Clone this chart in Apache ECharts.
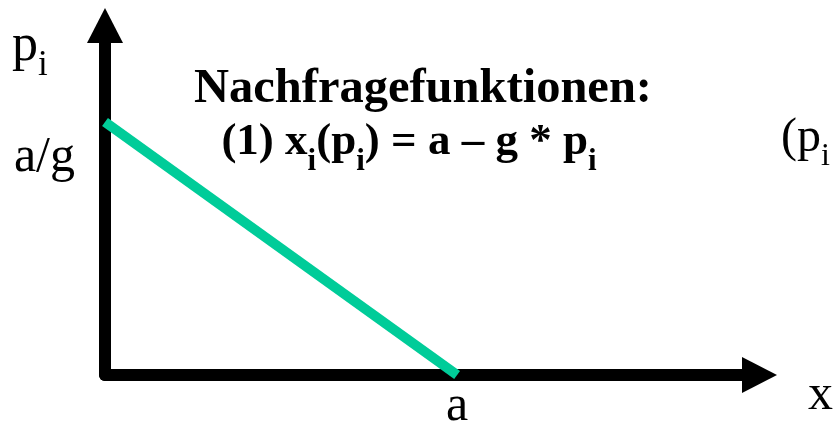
<!DOCTYPE html>
<html>
<head>
<meta charset="utf-8">
<script src="https://cdn.jsdelivr.net/npm/echarts@6/dist/echarts.min.js"></script>
<style>
  html, body { margin: 0; padding: 0; background: #fff; }
  #chart { width: 834px; height: 422px; }
</style>
</head>
<body>
<div id="chart"></div>
<script>
// demand curve x(p) = a - g * p, drawn in arbitrary units
const A = 53.8        // x intercept "a"
const AG = 72.4       // p intercept "a/g"
const curveX = [0, A]
const curveP = [AG, 0]
const xTickValues = [A]
const xTickLabels = ['a']
const yTickValues = [AG]
const yTickLabels = ['a/g']

const serif = '"Liberation Serif", "Times New Roman", serif'

let chart = echarts.init(document.getElementById('chart'), null, { renderer: 'canvas' })

let option = {
  animation: false,
  grid: { left: 105, right: 74.5, top: 25.5, bottom: 47, containLabel: false, outerBoundsMode: 'none' },
  xAxis: {
    type: 'value',
    min: 0,
    max: 100,
    axisLine: {
      lineStyle: { color: '#000', width: 12 },
      symbol: ['none', 'triangle'],
      symbolSize: [36, 35]
    },
    axisTick: { show: false },
    splitLine: { show: false },
    axisLabel: {
      customValues: xTickValues,
      formatter: (v) => xTickLabels[xTickValues.indexOf(v)],
      color: '#000',
      fontFamily: serif,
      fontSize: 50,
      margin: 7
    }
  },
  yAxis: {
    type: 'value',
    min: 0,
    max: 100,
    axisLine: {
      lineStyle: { color: '#000', width: 12 },
      symbol: ['none', 'triangle'],
      symbolSize: [36, 35]
    },
    axisTick: { show: false },
    splitLine: { show: false },
    axisLabel: {
      customValues: yTickValues,
      formatter: (v) => yTickLabels[yTickValues.indexOf(v)],
      color: '#000',
      fontFamily: serif,
      fontSize: 50,
      lineHeight: 72,
      margin: 30,
      verticalAlign: 'top'
    }
  },
  series: [{
    type: 'line',
    data: curveX.map((x, i) => [x, curveP[i]]),
    symbol: 'none',
    clip: false,
    lineStyle: { color: '#00CC99', width: 10, cap: 'butt' }
  }],
  graphic: [
    {
      type: 'text', x: 12, y: 20,
      style: {
        text: '{m|p}{s|i}',
        rich: {
          m: { fontFamily: serif, fontSize: 52, padding: [0, 0, 11, 0], verticalAlign: 'bottom', fill: '#000' },
          s: { fontFamily: serif, fontSize: 35, verticalAlign: 'bottom', fill: '#000' }
        }
      }
    },
    {
      type: 'text', x: 423, y: 89,
      style: {
        text: 'Nachfragefunktionen:',
        font: 'bold 48.5px ' + serif,
        fill: '#000', align: 'center', verticalAlign: 'middle'
      }
    },
    {
      type: 'text', x: 409, y: 120,
      style: {
        text: '{m|(1) x}{s|i}{m|(p}{s|i}{m|) = a – g * p}{s|i}',
        align: 'center', verticalAlign: 'top',
        rich: {
          m: { fontFamily: serif, fontWeight: 'bold', fontSize: 45, padding: [0, 0, 12, 0], verticalAlign: 'bottom', fill: '#000' },
          s: { fontFamily: serif, fontWeight: 'bold', fontSize: 31, verticalAlign: 'bottom', fill: '#000' }
        }
      }
    },
    {
      type: 'text', x: 781, y: 114,
      style: {
        text: '{m|(p}{s|i}',
        verticalAlign: 'top',
        rich: {
          m: { fontFamily: serif, fontSize: 48, padding: [0, 0, 11, 0], verticalAlign: 'bottom', fill: '#000' },
          s: { fontFamily: serif, fontSize: 32, verticalAlign: 'bottom', fill: '#000' }
        }
      }
    },
    {
      type: 'text', x: 808, y: 396,
      style: {
        text: 'x',
        font: '50px ' + serif,
        fill: '#000', verticalAlign: 'middle'
      }
    }
  ]
}

option && chart.setOption(option)
</script>
</body>
</html>
